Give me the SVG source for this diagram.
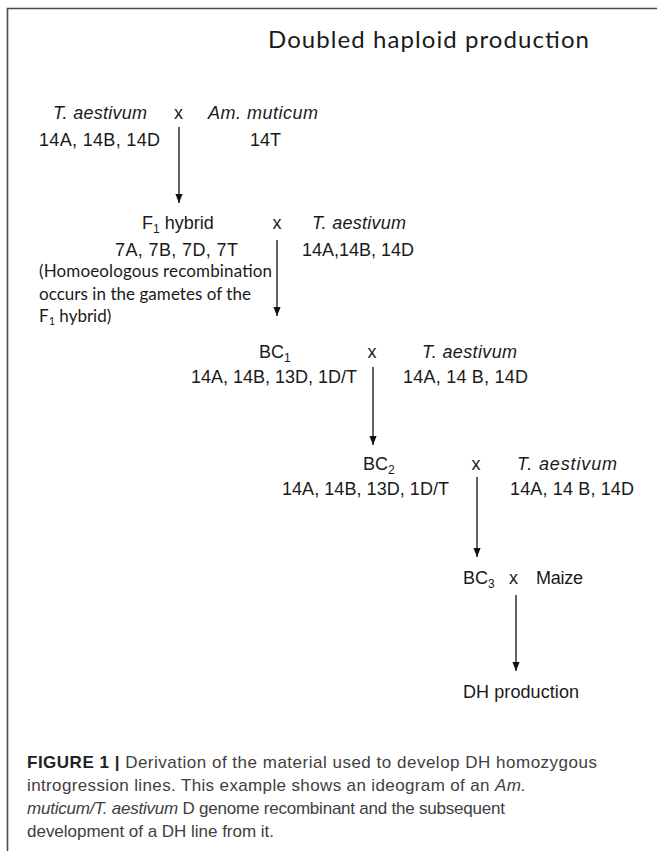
<svg xmlns="http://www.w3.org/2000/svg" width="657" height="851" viewBox="0 0 657 851">
<defs>
<style>
.t{font-family:"Liberation Sans",Arial,sans-serif;font-size:18px;fill:#1a1a1a}
.i{font-style:italic}
.c{font-family:Lato,"Liberation Sans",sans-serif;fill:#1a1a1a}
.cap{font-family:"Liberation Sans",Arial,sans-serif;font-size:17px;fill:#404040}
.b{font-weight:bold;fill:#222}
.arr{stroke:#111;stroke-width:1.3;fill:none;marker-end:url(#ah)}
.frame{stroke:#4a4a4a;stroke-width:1.6;fill:none}
</style>
<marker id="ah" viewBox="0 0 10 8" refX="10" refY="4" markerWidth="9" markerHeight="8" markerUnits="userSpaceOnUse" orient="auto">
<path d="M0,0 L10,4 L0,8 Z" fill="#111"/>
</marker>
</defs>
<rect width="657" height="851" fill="#fff"/>
<path class="frame" d="M7.5,851 V8.5 H657"/>

<g id="title"><text class="c" x="268" y="48" font-size="24" textLength="321">Doubled haploid production</text></g>

<g id="parent-taestivum-1">
<text class="t i" x="53" y="119" textLength="94">T. aestivum</text>
<text class="t" x="39" y="146" textLength="121">14A, 14B, 14D</text>
</g>
<g id="cross-1"><text class="t" x="178.5" y="119" text-anchor="middle">x</text></g>
<g id="parent-amuticum">
<text class="t i" x="208" y="119" textLength="110">Am. muticum</text>
<text class="t" x="250" y="146">14T</text>
</g>

<g id="f1-hybrid">
<text class="t" x="142" y="229">F<tspan font-size="12" dy="4">1</tspan><tspan dy="-4"> hybrid</tspan></text>
<text class="t" x="115" y="256" textLength="123">7A, 7B, 7D, 7T</text>
</g>
<g id="cross-2"><text class="t" x="277" y="229" text-anchor="middle">x</text></g>
<g id="parent-taestivum-2">
<text class="t i" x="312" y="229" textLength="94">T. aestivum</text>
<text class="t" x="302" y="256" textLength="112">14A,14B, 14D</text>
</g>
<g id="note">
<text class="c" x="39" y="277" font-size="17" textLength="233">(Homoeologous recombination</text>
<text class="c" x="39" y="300" font-size="17" textLength="212">occurs in the gametes of the</text>
<text class="c" x="39" y="322" font-size="17">F<tspan font-size="11" dy="3">1</tspan><tspan dy="-3"> hybrid)</tspan></text>
</g>

<g id="bc1">
<text class="t" x="259" y="358">BC<tspan font-size="12" dy="4">1</tspan></text>
<text class="t" x="191" y="383" textLength="166">14A, 14B, 13D, 1D/T</text>
</g>
<g id="cross-3"><text class="t" x="372" y="358" text-anchor="middle">x</text></g>
<g id="parent-taestivum-3">
<text class="t i" x="422" y="358" textLength="95">T. aestivum</text>
<text class="t" x="403" y="383" textLength="125">14A, 14 B, 14D</text>
</g>

<g id="bc2">
<text class="t" x="363" y="470">BC<tspan font-size="12" dy="4">2</tspan></text>
<text class="t" x="282" y="495" textLength="167">14A, 14B, 13D, 1D/T</text>
</g>
<g id="cross-4"><text class="t" x="476" y="470" text-anchor="middle">x</text></g>
<g id="parent-taestivum-4">
<text class="t i" x="517" y="470" textLength="100">T. aestivum</text>
<text class="t" x="510" y="495" textLength="124">14A, 14 B, 14D</text>
</g>

<g id="bc3"><text class="t" x="463" y="584">BC<tspan font-size="12" dy="4">3</tspan></text></g>
<g id="cross-5"><text class="t" x="513.5" y="584" text-anchor="middle">x</text></g>
<g id="maize"><text class="t" x="536" y="584" textLength="47">Maize</text></g>
<g id="dh"><text class="t" x="463" y="698" textLength="116">DH production</text></g>

<g id="connectors">
<line class="arr" x1="179" y1="127" x2="179" y2="203"/>
<line class="arr" x1="277" y1="240" x2="277" y2="316"/>
<line class="arr" x1="373" y1="367" x2="373" y2="445"/>
<line class="arr" x1="477" y1="477" x2="477" y2="557"/>
<line class="arr" x1="516" y1="595" x2="516" y2="671"/>
</g>

<g id="caption">
<text class="cap" x="27" y="768" textLength="570"><tspan class="b">FIGURE 1 |</tspan> Derivation of the material used to develop DH homozygous</text>
<text class="cap" x="27" y="791" textLength="499">introgression lines. This example shows an ideogram of an <tspan class="i">Am.</tspan></text>
<text class="cap" x="27" y="814" textLength="478"><tspan class="i">muticum/T. aestivum</tspan> D genome recombinant and the subsequent</text>
<text class="cap" x="27" y="837" textLength="247">development of a DH line from it.</text>
</g>
</svg>
